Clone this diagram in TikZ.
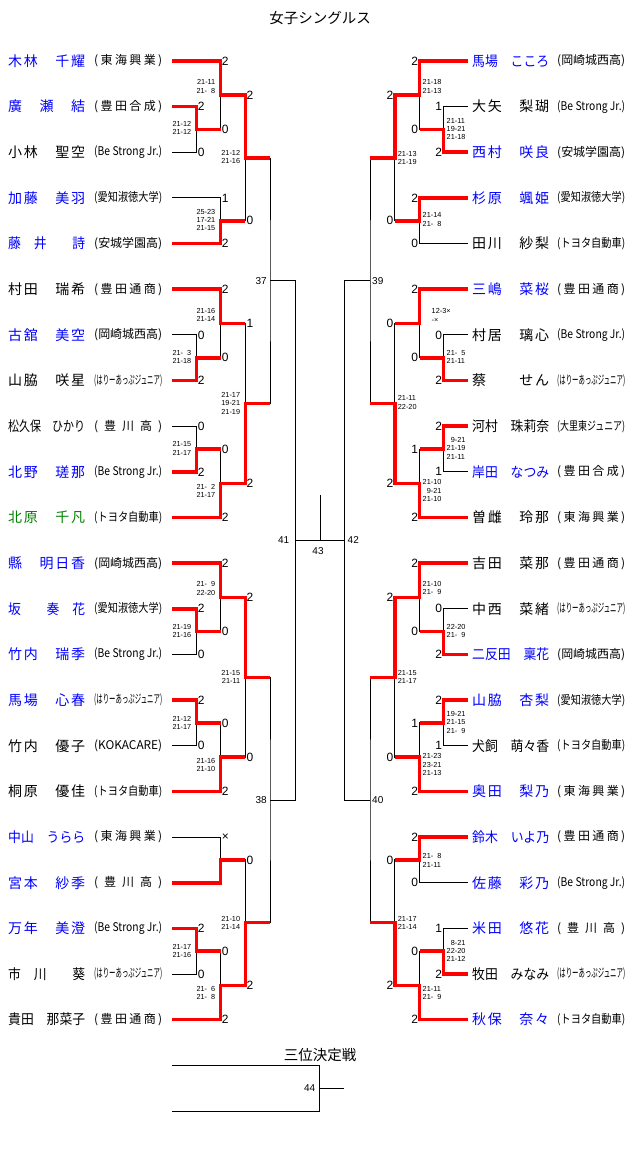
\documentclass[tikz,border=0pt]{standalone}
\usepackage{fontspec}
\setmainfont{Noto Sans CJK JP}
\newfontfamily\numfont{Liberation Sans}
\usepackage{graphicx}
\usepackage{xcolor}
\usepackage{tikz}
\usetikzlibrary{calc}

\definecolor{nblue}{RGB}{0,0,255}
\definecolor{ngreen}{RGB}{0,128,0}

\makeatletter
\def\sp@first#1{\ifx#1\relax\else#1\expandafter\sp@rest\fi}
\def\sp@rest#1{\ifx#1\relax\else\hfill#1\expandafter\sp@rest\fi}
\newcommand\fitbox[2]{\sbox0{#2}\ifdim\wd0>#1\relax\resizebox{#1}{\height}{#2}\else\makebox[#1][s]{\sp@first#2\relax}\fi}
\makeatother

\begin{document}
\begin{tikzpicture}[x=1pt,y=-1pt]
        \tikzstyle{wire}=[black, line width=0.9pt]
        \tikzstyle{win}=[red, line width=3.6pt]
        \tikzstyle{pname}=[anchor=west, inner sep=0pt, font=\fontsize{14}{14}\selectfont]
        \tikzstyle{team}=[anchor=west, inner sep=0pt, font=\fontsize{12}{12}\selectfont]
        \tikzstyle{scl}=[anchor=west, inner sep=1.2pt, font=\numfont\fontsize{12}{12}\selectfont]
        \tikzstyle{scr}=[anchor=east, inner sep=1.2pt, font=\numfont\fontsize{12}{12}\selectfont]
        \tikzstyle{resl}=[anchor=east, align=right, inner sep=0pt, font=\numfont\fontsize{7.3}{8.3}\selectfont]
        \tikzstyle{resr}=[anchor=west, align=left, inner sep=0pt, font=\numfont\fontsize{7.3}{8.3}\selectfont]
        \tikzstyle{numl}=[anchor=east, inner sep=0pt, font=\numfont\fontsize{10}{10}\selectfont]
        \tikzstyle{numr}=[anchor=west, inner sep=0pt, font=\numfont\fontsize{10}{10}\selectfont]
        \tikzstyle{head}=[inner sep=0pt, font=\fontsize{14.5}{14.5}\selectfont]

            \useasboundingbox (0,0) rectangle (640,1169);

            \node[head] (ttl) at (320,18) {女子シングルス};

            % left draw
            \coordinate (A1) at (172,61);
            \coordinate (A2) at ($(A1)+(0,45.65)$);
            \coordinate (A3) at ($(A2)+(0,45.65)$);
            \coordinate (A4) at ($(A3)+(0,45.65)$);
            \coordinate (A5) at ($(A4)+(0,45.65)$);
            \coordinate (A6) at ($(A5)+(0,45.65)$);
            \coordinate (A7) at ($(A6)+(0,45.65)$);
            \coordinate (A8) at ($(A7)+(0,45.65)$);
            \coordinate (A9) at ($(A8)+(0,45.65)$);
            \coordinate (A10) at ($(A9)+(0,45.65)$);
            \coordinate (A11) at ($(A10)+(0,45.65)$);
            \coordinate (A12) at ($(A11)+(0,45.65)$);
            \coordinate (A13) at ($(A12)+(0,45.65)$);
            \coordinate (A14) at ($(A13)+(0,45.65)$);
            \coordinate (A15) at ($(A14)+(0,45.65)$);
            \coordinate (A16) at ($(A15)+(0,45.65)$);
            \coordinate (A17) at ($(A16)+(0,45.65)$);
            \coordinate (A18) at ($(A17)+(0,45.65)$);
            \coordinate (A19) at ($(A18)+(0,45.65)$);
            \coordinate (A20) at ($(A19)+(0,45.65)$);
            \coordinate (A21) at ($(A20)+(0,45.65)$);
            \coordinate (A22) at ($(A21)+(0,45.65)$);

            % right draw
            \coordinate (B1) at (468,61);
            \coordinate (B2) at ($(B1)+(0,45.65)$);
            \coordinate (B3) at ($(B2)+(0,45.65)$);
            \coordinate (B4) at ($(B3)+(0,45.65)$);
            \coordinate (B5) at ($(B4)+(0,45.65)$);
            \coordinate (B6) at ($(B5)+(0,45.65)$);
            \coordinate (B7) at ($(B6)+(0,45.65)$);
            \coordinate (B8) at ($(B7)+(0,45.65)$);
            \coordinate (B9) at ($(B8)+(0,45.65)$);
            \coordinate (B10) at ($(B9)+(0,45.65)$);
            \coordinate (B11) at ($(B10)+(0,45.65)$);
            \coordinate (B12) at ($(B11)+(0,45.65)$);
            \coordinate (B13) at ($(B12)+(0,45.65)$);
            \coordinate (B14) at ($(B13)+(0,45.65)$);
            \coordinate (B15) at ($(B14)+(0,45.65)$);
            \coordinate (B16) at ($(B15)+(0,45.65)$);
            \coordinate (B17) at ($(B16)+(0,45.65)$);
            \coordinate (B18) at ($(B17)+(0,45.65)$);
            \coordinate (B19) at ($(B18)+(0,45.65)$);
            \coordinate (B20) at ($(B19)+(0,45.65)$);
            \coordinate (B21) at ($(B20)+(0,45.65)$);
            \coordinate (B22) at ($(B21)+(0,45.65)$);

            \node[pname, text=nblue] (pL1) at ($(A1)+(-164,0)$) {\fitbox{77pt}{木林　千耀}};
            \node[pname, text=nblue] (pL2) at ($(A2)+(-164,0)$) {\fitbox{77pt}{廣　瀬　結}};
            \node[pname] (pL3) at ($(A3)+(-164,0)$) {\fitbox{77pt}{小林　聖空}};
            \node[pname, text=nblue] (pL4) at ($(A4)+(-164,0)$) {\fitbox{77pt}{加藤　美羽}};
            \node[pname, text=nblue] (pL5) at ($(A5)+(-164,0)$) {\fitbox{77pt}{藤　井　　詩}};
            \node[pname] (pL6) at ($(A6)+(-164,0)$) {\fitbox{77pt}{村田　瑞希}};
            \node[pname, text=nblue] (pL7) at ($(A7)+(-164,0)$) {\fitbox{77pt}{古舘　美空}};
            \node[pname] (pL8) at ($(A8)+(-164,0)$) {\fitbox{77pt}{山脇　咲星}};
            \node[pname] (pL9) at ($(A9)+(-164,0)$) {\fitbox{77pt}{松久保　ひかり}};
            \node[pname, text=nblue] (pL10) at ($(A10)+(-164,0)$) {\fitbox{77pt}{北野　瑳那}};
            \node[pname, text=ngreen] (pL11) at ($(A11)+(-164,0)$) {\fitbox{77pt}{北原　千凡}};
            \node[pname, text=nblue] (pL12) at ($(A12)+(-164,0)$) {\fitbox{77pt}{縣　明日香}};
            \node[pname, text=nblue] (pL13) at ($(A13)+(-164,0)$) {\fitbox{77pt}{坂　　奏　花}};
            \node[pname, text=nblue] (pL14) at ($(A14)+(-164,0)$) {\fitbox{77pt}{竹内　瑞季}};
            \node[pname, text=nblue] (pL15) at ($(A15)+(-164,0)$) {\fitbox{77pt}{馬場　心春}};
            \node[pname] (pL16) at ($(A16)+(-164,0)$) {\fitbox{77pt}{竹内　優子}};
            \node[pname] (pL17) at ($(A17)+(-164,0)$) {\fitbox{77pt}{桐原　優佳}};
            \node[pname, text=nblue] (pL18) at ($(A18)+(-164,0)$) {\fitbox{77pt}{中山　うらら}};
            \node[pname, text=nblue] (pL19) at ($(A19)+(-164,0)$) {\fitbox{77pt}{宮本　紗季}};
            \node[pname, text=nblue] (pL20) at ($(A20)+(-164,0)$) {\fitbox{77pt}{万年　美澄}};
            \node[pname] (pL21) at ($(A21)+(-164,0)$) {\fitbox{77pt}{市　川　　葵}};
            \node[pname] (pL22) at ($(A22)+(-164,0)$) {\fitbox{77pt}{貴田　那菜子}};

            \node[team] (tL1) at ($(A1)+(-78,0)$) {\fitbox{68pt}{(東海興業)}};
            \node[team] (tL2) at ($(A2)+(-78,0)$) {\fitbox{68pt}{(豊田合成)}};
            \node[team] (tL3) at ($(A3)+(-78,0)$) {\fitbox{68pt}{(Be Strong Jr.)}};
            \node[team] (tL4) at ($(A4)+(-78,0)$) {\fitbox{68pt}{(愛知淑徳大学)}};
            \node[team] (tL5) at ($(A5)+(-78,0)$) {\fitbox{68pt}{(安城学園高)}};
            \node[team] (tL6) at ($(A6)+(-78,0)$) {\fitbox{68pt}{(豊田通商)}};
            \node[team] (tL7) at ($(A7)+(-78,0)$) {\fitbox{68pt}{(岡崎城西高)}};
            \node[team] (tL8) at ($(A8)+(-78,0)$) {\fitbox{68pt}{(はりーあっぷジュニア)}};
            \node[team] (tL9) at ($(A9)+(-78,0)$) {\fitbox{68pt}{(豊川高)}};
            \node[team] (tL10) at ($(A10)+(-78,0)$) {\fitbox{68pt}{(Be Strong Jr.)}};
            \node[team] (tL11) at ($(A11)+(-78,0)$) {\fitbox{68pt}{(トヨタ自動車)}};
            \node[team] (tL12) at ($(A12)+(-78,0)$) {\fitbox{68pt}{(岡崎城西高)}};
            \node[team] (tL13) at ($(A13)+(-78,0)$) {\fitbox{68pt}{(愛知淑徳大学)}};
            \node[team] (tL14) at ($(A14)+(-78,0)$) {\fitbox{68pt}{(Be Strong Jr.)}};
            \node[team] (tL15) at ($(A15)+(-78,0)$) {\fitbox{68pt}{(はりーあっぷジュニア)}};
            \node[team] (tL16) at ($(A16)+(-78,0)$) {\fitbox{68pt}{(KOKACARE)}};
            \node[team] (tL17) at ($(A17)+(-78,0)$) {\fitbox{68pt}{(トヨタ自動車)}};
            \node[team] (tL18) at ($(A18)+(-78,0)$) {\fitbox{68pt}{(東海興業)}};
            \node[team] (tL19) at ($(A19)+(-78,0)$) {\fitbox{68pt}{(豊川高)}};
            \node[team] (tL20) at ($(A20)+(-78,0)$) {\fitbox{68pt}{(Be Strong Jr.)}};
            \node[team] (tL21) at ($(A21)+(-78,0)$) {\fitbox{68pt}{(はりーあっぷジュニア)}};
            \node[team] (tL22) at ($(A22)+(-78,0)$) {\fitbox{68pt}{(豊田通商)}};

            \node[pname, text=nblue] (pR1) at ($(B1)+(4,0)$) {\fitbox{77pt}{馬場　こころ}};
            \node[pname] (pR2) at ($(B2)+(4,0)$) {\fitbox{77pt}{大矢　梨瑚}};
            \node[pname, text=nblue] (pR3) at ($(B3)+(4,0)$) {\fitbox{77pt}{西村　咲良}};
            \node[pname, text=nblue] (pR4) at ($(B4)+(4,0)$) {\fitbox{77pt}{杉原　颯姫}};
            \node[pname] (pR5) at ($(B5)+(4,0)$) {\fitbox{77pt}{田川　紗梨}};
            \node[pname, text=nblue] (pR6) at ($(B6)+(4,0)$) {\fitbox{77pt}{三嶋　菜桜}};
            \node[pname] (pR7) at ($(B7)+(4,0)$) {\fitbox{77pt}{村居　璃心}};
            \node[pname] (pR8) at ($(B8)+(4,0)$) {\fitbox{77pt}{蔡　　せん}};
            \node[pname] (pR9) at ($(B9)+(4,0)$) {\fitbox{77pt}{河村　珠莉奈}};
            \node[pname, text=nblue] (pR10) at ($(B10)+(4,0)$) {\fitbox{77pt}{岸田　なつみ}};
            \node[pname] (pR11) at ($(B11)+(4,0)$) {\fitbox{77pt}{曽雌　玲那}};
            \node[pname] (pR12) at ($(B12)+(4,0)$) {\fitbox{77pt}{吉田　菜那}};
            \node[pname] (pR13) at ($(B13)+(4,0)$) {\fitbox{77pt}{中西　菜緒}};
            \node[pname, text=nblue] (pR14) at ($(B14)+(4,0)$) {\fitbox{77pt}{二反田　稟花}};
            \node[pname, text=nblue] (pR15) at ($(B15)+(4,0)$) {\fitbox{77pt}{山脇　杏梨}};
            \node[pname] (pR16) at ($(B16)+(4,0)$) {\fitbox{77pt}{犬飼　萌々香}};
            \node[pname, text=nblue] (pR17) at ($(B17)+(4,0)$) {\fitbox{77pt}{奥田　梨乃}};
            \node[pname, text=nblue] (pR18) at ($(B18)+(4,0)$) {\fitbox{77pt}{鈴木　いよ乃}};
            \node[pname, text=nblue] (pR19) at ($(B19)+(4,0)$) {\fitbox{77pt}{佐藤　彩乃}};
            \node[pname, text=nblue] (pR20) at ($(B20)+(4,0)$) {\fitbox{77pt}{米田　悠花}};
            \node[pname] (pR21) at ($(B21)+(4,0)$) {\fitbox{77pt}{牧田　みなみ}};
            \node[pname, text=nblue] (pR22) at ($(B22)+(4,0)$) {\fitbox{77pt}{秋保　奈々}};

            \node[team] (tR1) at ($(B1)+(89,0)$) {\fitbox{68pt}{(岡崎城西高)}};
            \node[team] (tR2) at ($(B2)+(89,0)$) {\fitbox{68pt}{(Be Strong Jr.)}};
            \node[team] (tR3) at ($(B3)+(89,0)$) {\fitbox{68pt}{(安城学園高)}};
            \node[team] (tR4) at ($(B4)+(89,0)$) {\fitbox{68pt}{(愛知淑徳大学)}};
            \node[team] (tR5) at ($(B5)+(89,0)$) {\fitbox{68pt}{(トヨタ自動車)}};
            \node[team] (tR6) at ($(B6)+(89,0)$) {\fitbox{68pt}{(豊田通商)}};
            \node[team] (tR7) at ($(B7)+(89,0)$) {\fitbox{68pt}{(Be Strong Jr.)}};
            \node[team] (tR8) at ($(B8)+(89,0)$) {\fitbox{68pt}{(はりーあっぷジュニア)}};
            \node[team] (tR9) at ($(B9)+(89,0)$) {\fitbox{68pt}{(大里東ジュニア)}};
            \node[team] (tR10) at ($(B10)+(89,0)$) {\fitbox{68pt}{(豊田合成)}};
            \node[team] (tR11) at ($(B11)+(89,0)$) {\fitbox{68pt}{(東海興業)}};
            \node[team] (tR12) at ($(B12)+(89,0)$) {\fitbox{68pt}{(豊田通商)}};
            \node[team] (tR13) at ($(B13)+(89,0)$) {\fitbox{68pt}{(はりーあっぷジュニア)}};
            \node[team] (tR14) at ($(B14)+(89,0)$) {\fitbox{68pt}{(岡崎城西高)}};
            \node[team] (tR15) at ($(B15)+(89,0)$) {\fitbox{68pt}{(愛知淑徳大学)}};
            \node[team] (tR16) at ($(B16)+(89,0)$) {\fitbox{68pt}{(トヨタ自動車)}};
            \node[team] (tR17) at ($(B17)+(89,0)$) {\fitbox{68pt}{(東海興業)}};
            \node[team] (tR18) at ($(B18)+(89,0)$) {\fitbox{68pt}{(豊田通商)}};
            \node[team] (tR19) at ($(B19)+(89,0)$) {\fitbox{68pt}{(Be Strong Jr.)}};
            \node[team] (tR20) at ($(B20)+(89,0)$) {\fitbox{68pt}{(豊川高)}};
            \node[team] (tR21) at ($(B21)+(89,0)$) {\fitbox{68pt}{(はりーあっぷジュニア)}};
            \node[team] (tR22) at ($(B22)+(89,0)$) {\fitbox{68pt}{(トヨタ自動車)}};

            % match points, left half
            \coordinate (La) at (196.5,129.5);
            \coordinate (Lb) at (220.5,95.2);
            \coordinate (Lc) at (220.5,220.8);
            \coordinate (Ld) at (245.3,158);
            \coordinate (Le) at (196.5,357.7);
            \coordinate (Lf) at (220.5,323.5);
            \coordinate (Lg) at (196.5,449);
            \coordinate (Lh) at (220.5,483.3);
            \coordinate (Li) at (245.3,403.4);
            \coordinate (L37) at (270,280.7);
            \coordinate (Lj) at (196.5,631.6);
            \coordinate (Lk) at (220.5,597.4);
            \coordinate (Ll) at (196.5,722.9);
            \coordinate (Lm) at (220.5,757.2);
            \coordinate (Ln) at (245.3,677.3);
            \coordinate (Lo) at (220.5,859.9);
            \coordinate (Lp) at (196.5,951.2);
            \coordinate (Lq) at (220.5,985.4);
            \coordinate (Lr) at (245.3,922.6);
            \coordinate (L38) at (270,800);
            \coordinate (L41) at (295.5,540.3);

            % match points, right half
            \coordinate (Ra) at (443.5,129.5);
            \coordinate (Rb) at (419.5,95.2);
            \coordinate (Rc) at (419.5,220.8);
            \coordinate (Rd) at (394.7,158);
            \coordinate (Re) at (443.5,357.7);
            \coordinate (Rf) at (419.5,323.5);
            \coordinate (Rg) at (443.5,449);
            \coordinate (Rh) at (419.5,483.3);
            \coordinate (Ri) at (394.7,403.4);
            \coordinate (R39) at (370,280.7);
            \coordinate (Rj) at (443.5,631.6);
            \coordinate (Rk) at (419.5,597.4);
            \coordinate (Rl) at (443.5,722.9);
            \coordinate (Rm) at (419.5,757.2);
            \coordinate (Rn) at (394.7,677.3);
            \coordinate (Ro) at (419.5,859.9);
            \coordinate (Rp) at (443.5,951.2);
            \coordinate (Rq) at (419.5,985.4);
            \coordinate (Rr) at (394.7,922.6);
            \coordinate (R40) at (370,800);
            \coordinate (R42) at (344.5,540.3);
            \coordinate (C43) at (320,540.3);

            \draw[wire] (A2) -| (La) |- (A3);
            \draw[wire] (A1) -| (Lb) |- (La);
            \draw[wire] (A4) -| (Lc) |- (A5);
            \draw[wire] (Lb) -| (Ld) |- (Lc);
            \draw[wire] (A7) -| (Le) |- (A8);
            \draw[wire] (A6) -| (Lf) |- (Le);
            \draw[wire] (A9) -| (Lg) |- (A10);
            \draw[wire] (Lg) -| (Lh) |- (A11);
            \draw[wire] (Lf) -| (Li) |- (Lh);
            \draw[wire] (Ld) -| (L37) |- (Li);
            \draw[wire] (A13) -| (Lj) |- (A14);
            \draw[wire] (A12) -| (Lk) |- (Lj);
            \draw[wire] (A15) -| (Ll) |- (A16);
            \draw[wire] (Ll) -| (Lm) |- (A17);
            \draw[wire] (Lk) -| (Ln) |- (Lm);
            \draw[wire] (A18) -| (Lo) |- (A19);
            \draw[wire] (A20) -| (Lp) |- (A21);
            \draw[wire] (Lp) -| (Lq) |- (A22);
            \draw[wire] (Lo) -| (Lr) |- (Lq);
            \draw[wire] (Ln) -| (L38) |- (Lr);
            \draw[wire] (L37) -| (L41) |- (L38);

            \draw[wire] (B2) -| (Ra) |- (B3);
            \draw[wire] (B1) -| (Rb) |- (Ra);
            \draw[wire] (B4) -| (Rc) |- (B5);
            \draw[wire] (Rb) -| (Rd) |- (Rc);
            \draw[wire] (B7) -| (Re) |- (B8);
            \draw[wire] (B6) -| (Rf) |- (Re);
            \draw[wire] (B9) -| (Rg) |- (B10);
            \draw[wire] (Rg) -| (Rh) |- (B11);
            \draw[wire] (Rf) -| (Ri) |- (Rh);
            \draw[wire] (Rd) -| (R39) |- (Ri);
            \draw[wire] (B13) -| (Rj) |- (B14);
            \draw[wire] (B12) -| (Rk) |- (Rj);
            \draw[wire] (B15) -| (Rl) |- (B16);
            \draw[wire] (Rl) -| (Rm) |- (B17);
            \draw[wire] (Rk) -| (Rn) |- (Rm);
            \draw[wire] (B18) -| (Ro) |- (B19);
            \draw[wire] (B20) -| (Rp) |- (B21);
            \draw[wire] (Rp) -| (Rq) |- (B22);
            \draw[wire] (Ro) -| (Rr) |- (Rq);
            \draw[wire] (Rn) -| (R40) |- (Rr);
            \draw[wire] (R39) -| (R42) |- (R40);

            \draw[wire] (L41) -- (R42);
            \draw[wire] (C43) -- ++(0,-45);

            % winners
            \draw[win] (A1) -| (Lb) -| (Ld) -- (L37 |- Ld);
            \draw[win] (A2) -| (La) -- (Lb |- La);
            \draw[win] (A5) -| (Lc) -- (Ld |- Lc);
            \draw[win] (A6) -| (Lf) -- (Li |- Lf);
            \draw[win] (A8) -| (Le) -- (Lf |- Le);
            \draw[win] (A10) -| (Lg) -- (Lh |- Lg);
            \draw[win] (A11) -| (Lh) -| (Li) -- (L37 |- Li);
            \draw[win] (A12) -| (Lk) -| (Ln) -- (L38 |- Ln);
            \draw[win] (A13) -| (Lj) -- (Lk |- Lj);
            \draw[win] (A15) -| (Ll) -- (Lm |- Ll);
            \draw[win] (A17) -| (Lm) -- (Ln |- Lm);
            \draw[win] (A19) -| (Lo) -- (Lr |- Lo);
            \draw[win] (A20) -| (Lp) -- (Lq |- Lp);
            \draw[win] (A22) -| (Lq) -| (Lr) -- (L38 |- Lr);

            \draw[win] (B1) -| (Rb) -| (Rd) -- (R39 |- Rd);
            \draw[win] (B3) -| (Ra) -- (Rb |- Ra);
            \draw[win] (B4) -| (Rc) -- (Rd |- Rc);
            \draw[win] (B6) -| (Rf) -- (Ri |- Rf);
            \draw[win] (B8) -| (Re) -- (Rf |- Re);
            \draw[win] (B9) -| (Rg) -- (Rh |- Rg);
            \draw[win] (B11) -| (Rh) -| (Ri) -- (R39 |- Ri);
            \draw[win] (B12) -| (Rk) -| (Rn) -- (R40 |- Rn);
            \draw[win] (B14) -| (Rj) -- (Rk |- Rj);
            \draw[win] (B15) -| (Rl) -- (Rm |- Rl);
            \draw[win] (B17) -| (Rm) -- (Rn |- Rm);
            \draw[win] (B18) -| (Ro) -- (Rr |- Ro);
            \draw[win] (B21) -| (Rp) -- (Rq |- Rp);
            \draw[win] (B22) -| (Rq) -| (Rr) -- (R40 |- Rr);

            % games won
            \node[scl] (sLa1) at (La |- A2) {2};
            \node[scl] (sLa2) at (La |- A3) {0};
            \node[scl] (sLb1) at (Lb |- A1) {2};
            \node[scl] (sLb2) at (Lb |- La) {0};
            \node[scl] (sLc1) at (Lc |- A4) {1};
            \node[scl] (sLc2) at (Lc |- A5) {2};
            \node[scl] (sLd1) at (Ld |- Lb) {2};
            \node[scl] (sLd2) at (Ld |- Lc) {0};
            \node[scl] (sLe1) at (Le |- A7) {0};
            \node[scl] (sLe2) at (Le |- A8) {2};
            \node[scl] (sLf1) at (Lf |- A6) {2};
            \node[scl] (sLf2) at (Lf |- Le) {0};
            \node[scl] (sLg1) at (Lg |- A9) {0};
            \node[scl] (sLg2) at (Lg |- A10) {2};
            \node[scl] (sLh1) at (Lh |- Lg) {0};
            \node[scl] (sLh2) at (Lh |- A11) {2};
            \node[scl] (sLi1) at (Li |- Lf) {1};
            \node[scl] (sLi2) at (Li |- Lh) {2};
            \node[scl] (sLj1) at (Lj |- A13) {2};
            \node[scl] (sLj2) at (Lj |- A14) {0};
            \node[scl] (sLk1) at (Lk |- A12) {2};
            \node[scl] (sLk2) at (Lk |- Lj) {0};
            \node[scl] (sLl1) at (Ll |- A15) {2};
            \node[scl] (sLl2) at (Ll |- A16) {0};
            \node[scl] (sLm1) at (Lm |- Ll) {0};
            \node[scl] (sLm2) at (Lm |- A17) {2};
            \node[scl] (sLn1) at (Ln |- Lk) {2};
            \node[scl] (sLn2) at (Ln |- Lm) {0};
            \node[scl] (sLo1) at (Lo |- A18) {×};
            \node[scl] (sLp1) at (Lp |- A20) {2};
            \node[scl] (sLp2) at (Lp |- A21) {0};
            \node[scl] (sLq1) at (Lq |- Lp) {0};
            \node[scl] (sLq2) at (Lq |- A22) {2};
            \node[scl] (sLr1) at (Lr |- Lo) {0};
            \node[scl] (sLr2) at (Lr |- Lq) {2};

            \node[scr] (sRa1) at (Ra |- B2) {1};
            \node[scr] (sRa2) at (Ra |- B3) {2};
            \node[scr] (sRb1) at (Rb |- B1) {2};
            \node[scr] (sRb2) at (Rb |- Ra) {0};
            \node[scr] (sRc1) at (Rc |- B4) {2};
            \node[scr] (sRc2) at (Rc |- B5) {0};
            \node[scr] (sRd1) at (Rd |- Rb) {2};
            \node[scr] (sRd2) at (Rd |- Rc) {0};
            \node[scr] (sRe1) at (Re |- B7) {0};
            \node[scr] (sRe2) at (Re |- B8) {2};
            \node[scr] (sRf1) at (Rf |- B6) {2};
            \node[scr] (sRf2) at (Rf |- Re) {0};
            \node[scr] (sRg1) at (Rg |- B9) {2};
            \node[scr] (sRg2) at (Rg |- B10) {1};
            \node[scr] (sRh1) at (Rh |- Rg) {1};
            \node[scr] (sRh2) at (Rh |- B11) {2};
            \node[scr] (sRi1) at (Ri |- Rf) {0};
            \node[scr] (sRi2) at (Ri |- Rh) {2};
            \node[scr] (sRj1) at (Rj |- B13) {0};
            \node[scr] (sRj2) at (Rj |- B14) {2};
            \node[scr] (sRk1) at (Rk |- B12) {2};
            \node[scr] (sRk2) at (Rk |- Rj) {0};
            \node[scr] (sRl1) at (Rl |- B15) {2};
            \node[scr] (sRl2) at (Rl |- B16) {1};
            \node[scr] (sRm1) at (Rm |- Rl) {1};
            \node[scr] (sRm2) at (Rm |- B17) {2};
            \node[scr] (sRn1) at (Rn |- Rk) {2};
            \node[scr] (sRn2) at (Rn |- Rm) {0};
            \node[scr] (sRo1) at (Ro |- B18) {2};
            \node[scr] (sRo2) at (Ro |- B19) {0};
            \node[scr] (sRp1) at (Rp |- B20) {1};
            \node[scr] (sRp2) at (Rp |- B21) {2};
            \node[scr] (sRq1) at (Rq |- Rp) {0};
            \node[scr] (sRq2) at (Rq |- B22) {2};
            \node[scr] (sRr1) at (Rr |- Ro) {0};
            \node[scr] (sRr2) at (Rr |- Rq) {2};

            % game scores
            \node[resl] (rLa) at ($(La)+(-5,-1.5)$) {21-12\\21-12};
            \node[resl] (rLb) at ($(Lb)+(-5,-8.7)$) {21-11\\21-\phantom{0}8};
            \node[resl] (rLc) at ($(Lc)+(-5,-0.8)$) {25-23\\17-21\\21-15};
            \node[resl] (rLd) at ($(Ld)+(-5,-0.7)$) {21-12\\21-16};
            \node[resl] (rLe) at ($(Le)+(-5,-1)$) {21-\phantom{0}3\\21-18};
            \node[resl] (rLf) at ($(Lf)+(-5,-8.7)$) {21-16\\21-14};
            \node[resl] (rLg) at ($(Lg)+(-5,-0.5)$) {21-15\\21-17};
            \node[resl] (rLh) at ($(Lh)+(-5,7.7)$) {21-\phantom{0}2\\21-17};
            \node[resl] (rLi) at ($(Li)+(-5,0)$) {21-17\\19-21\\21-19};
            \node[resl] (rLj) at ($(Lj)+(-5,-0.8)$) {21-19\\21-16};
            \node[resl] (rLk) at ($(Lk)+(-5,-8.9)$) {21-\phantom{0}9\\22-20};
            \node[resl] (rLl) at ($(Ll)+(-5,0)$) {21-12\\21-17};
            \node[resl] (rLm) at ($(Lm)+(-5,7.8)$) {21-16\\21-10};
            \node[resl] (rLn) at ($(Ln)+(-5,-0.6)$) {21-15\\21-11};
            \node[resl] (rLp) at ($(Lp)+(-5,0)$) {21-17\\21-16};
            \node[resl] (rLq) at ($(Lq)+(-5,7.6)$) {21-\phantom{0}6\\21-\phantom{0}8};
            \node[resl] (rLr) at ($(Lr)+(-5,0)$) {21-10\\21-14};

            \node[resr] (rRa) at ($(Ra)+(3,-0.7)$) {21-11\\19-21\\21-18};
            \node[resr] (rRb) at ($(Rb)+(3,-8.7)$) {21-18\\21-13};
            \node[resr] (rRc) at ($(Rc)+(3,-1.3)$) {21-14\\21-\phantom{0}8};
            \node[resr] (rRd) at ($(Rd)+(3,-0.3)$) {21-13\\21-19};
            \node[resr] (rRe) at ($(Re)+(3,-1)$) {21-\phantom{0}5\\21-11};
            \node[resr] (rRf) at ($(Rf)+(12,-8)$) {12-3×\\-×};
            \node[resr] (rRg) at ($(Rg)+(3,-0.7)$) {\phantom{2}9-21\\21-19\\21-11};
            \node[resr] (rRh) at ($(Rh)+(3,7.4)$) {21-10\\\phantom{2}9-21\\21-10};
            \node[resr] (rRi) at ($(Ri)+(3,-0.9)$) {21-11\\22-20};
            \node[resr] (rRj) at ($(Rj)+(3,-0.4)$) {22-20\\21-\phantom{0}9};
            \node[resr] (rRk) at ($(Rk)+(3,-9.1)$) {21-10\\21-\phantom{0}9};
            \node[resr] (rRl) at ($(Rl)+(3,-0.6)$) {19-21\\21-15\\21-\phantom{0}9};
            \node[resr] (rRm) at ($(Rm)+(3,7.5)$) {21-23\\23-21\\21-13};
            \node[resr] (rRn) at ($(Rn)+(3,-0.5)$) {21-15\\21-17};
            \node[resr] (rRo) at ($(Ro)+(3,0.6)$) {21-\phantom{0}8\\21-11};
            \node[resr] (rRp) at ($(Rp)+(3,-0.4)$) {\phantom{2}8-21\\22-20\\21-12};
            \node[resr] (rRq) at ($(Rq)+(3,7.6)$) {21-11\\21-\phantom{0}9};
            \node[resr] (rRr) at ($(Rr)+(3,0)$) {21-17\\21-14};

            % match numbers
            \node[numl] (n37) at ($(L37)+(-3,0)$) {37};
            \node[numl] (n38) at ($(L38)+(-3,0)$) {38};
            \node[numr] (n39) at ($(R39)+(2,0)$) {39};
            \node[numr] (n40) at ($(R40)+(2,0)$) {40};
            \node[numl] (n41) at ($(L41)+(-6,0)$) {41};
            \node[numr] (n42) at ($(R42)+(3,0)$) {42};
            \node[numr, anchor=center] (n43) at ($(C43)+(-2,11)$) {43};

            % third place
            \node[head] (sub) at (320,1055) {三位決定戦};
            \coordinate (T1) at (172,1065);
            \coordinate (T2) at (172,1111);
            \coordinate (M44) at (319.5,1088);
            \draw[wire] (T1) -| (M44) |- (T2);
            \draw[wire] (M44) -- ++(24,0);
            \node[numl] (n44) at ($(M44)+(-4,0)$) {44};

        \end{tikzpicture}
\end{document}
